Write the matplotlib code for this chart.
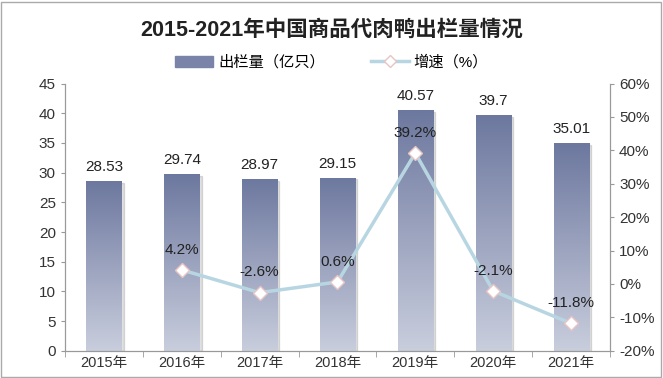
import numpy as np
import matplotlib.pyplot as plt
from matplotlib.patches import Rectangle
from matplotlib.lines import Line2D
from matplotlib.colors import LinearSegmentedColormap

plt.rcParams['font.family'] = ['Liberation Sans', 'Noto Sans CJK SC', 'DejaVu Sans']

years = ["2015年", "2016年", "2017年", "2018年", "2019年", "2020年", "2021年"]
output = [28.53, 29.74, 28.97, 29.15, 40.57, 39.7, 35.01]
growth_years = ["2016年", "2017年", "2018年", "2019年", "2020年", "2021年"]
growth = [4.2, -2.6, 0.6, 39.2, -2.1, -11.8]

fig = plt.figure(figsize=(6.63, 3.78), dpi=100)
ax = fig.add_axes([0.098, 0.072, 0.822, 0.707])
ax2 = ax.twinx()

x = np.arange(len(years))
bars = ax.bar(x, output, width=0.45, color="none", zorder=2)

cmap = LinearSegmentedColormap.from_list("bar", ["#c9cedd", "#6d789f"])
grad = np.linspace(0, 1, 256).reshape(-1, 1)
for b in bars:
    x0, w, h = b.get_x(), b.get_width(), b.get_height()
    # soft shadow
    ax.add_patch(Rectangle((x0 + 0.03, 0), w, h - 0.3, color="#000000", alpha=0.12, zorder=1))
    im = ax.imshow(grad, extent=[x0, x0 + w, 0, h], origin="lower", cmap=cmap,
                   aspect="auto", zorder=2)
    im.set_clip_path(b)
    ax.text(b.get_x() + w / 2, h + 1.2, f"{h:g}", ha="center", va="bottom",
            fontsize=11, color="#222222")

ax.set_xlim(-0.5, len(years) - 0.5)
ax.set_ylim(0, 45)
ax.set_yticks(np.arange(0, 46, 5))
ax.set_xticks(x)
ax.set_xticklabels(years)
ax.set_xticks(np.arange(-0.5, len(years), 1), minor=True)
ax.tick_params(axis="x", which="major", length=0)
ax.tick_params(axis="x", which="minor", length=4, color="#999999")

gx = [years.index(y) for y in growth_years]
ax2.plot(gx, growth, color="#b8d6e2", lw=2.5, marker="D", markersize=7,
         markerfacecolor="white", markeredgecolor="#e8c4c4", markeredgewidth=1, zorder=3)
for xi, g in zip(gx, growth):
    ax2.text(xi, g + 4, f"{g}%", ha="center", va="bottom", fontsize=11,
             color="#222222")
ax2.set_ylim(-20, 60)
ax2.set_yticks(np.arange(-20, 61, 10))
ax2.set_yticklabels([f"{v}%" for v in range(-20, 61, 10)])

for a in (ax, ax2):
    a.spines["top"].set_visible(False)
    a.spines["left"].set_color("#999999")
    a.spines["right"].set_color("#999999")
    a.spines["bottom"].set_color("#999999")
    a.tick_params(axis="y", colors="#333333", labelsize=11, length=3, color="#999999")
ax.tick_params(axis="x", labelsize=10.5, labelcolor="#333333")
ax.set_zorder(ax2.get_zorder() - 1)
ax2.patch.set_visible(False)

fig.text(0.5, 0.92, "2015-2021年中国商品代肉鸭出栏量情况", ha="center", va="center",
         fontsize=15.5, fontweight="bold", color="#222222")

handles = [Rectangle((0, 0), 1, 1, color="#7a84a8"),
           Line2D([0], [0], color="#b8d6e2", lw=2.5, marker="D", markersize=6,
                  markerfacecolor="white", markeredgecolor="#e8c4c4")]
fig.legend(handles, ["出栏量（亿只）", "增速（%）"], loc="center", bbox_to_anchor=(0.5, 0.835),
           ncol=2, frameon=False, fontsize=11, handlelength=2.5, columnspacing=3,
           handletextpad=0.3)

fig.patches.append(Rectangle((0.002, 0.003), 0.995, 0.993, transform=fig.transFigure,
                             fill=False, edgecolor="#aaaaaa", lw=1))

fig.savefig("out.png", dpi=100)
